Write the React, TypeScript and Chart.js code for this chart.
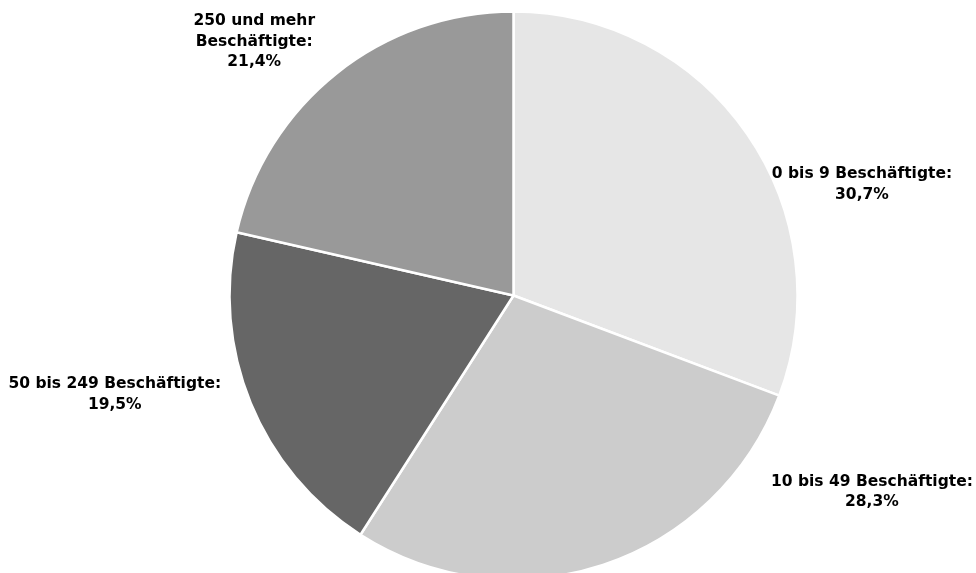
import React, { useEffect, useRef } from "react";
import { Chart, registerables } from "chart.js";

Chart.register(...registerables);

const categories = [
  "0 bis 9 Beschäftigte",
  "10 bis 49 Beschäftigte",
  "50 bis 249 Beschäftigte",
  "250 und mehr\nBeschäftigte",
];
const shares = [30.7, 28.3, 19.5, 21.4];
const sliceColors = ["#e6e6e6", "#cccccc", "#666666", "#999999"];

// label centres, expressed in units of the pie radius relative to the pie centre
const labelOffsets: [number, number][] = [
  [1.227, -0.391],
  [1.262, 0.692],
  [-1.404, 0.349],
  [-0.913, -0.894],
];

const fmt = (v: number) => v.toFixed(1).replace(".", ",") + "%";

const labelPlugin = {
  id: "outsideLabels",
  afterDatasetsDraw(chart: any) {
    const ctx = chart.ctx;
    const meta = chart.getDatasetMeta(0);
    ctx.save();
    ctx.font = "bold 15.5px 'DejaVu Sans', sans-serif";
    ctx.fillStyle = "#000000";
    ctx.textAlign = "center";
    ctx.textBaseline = "middle";
    const lineH = 20.8;
    meta.data.forEach((arc: any, i: number) => {
      const { x, y, outerRadius } = arc.getProps(["x", "y", "outerRadius"], true);
      const [ox, oy] = labelOffsets[i];
      const cx = x + ox * outerRadius;
      const cy = y + oy * outerRadius;
      const lines = (categories[i] + ":\n" + fmt(shares[i])).split("\n");
      const top = cy - ((lines.length - 1) * lineH) / 2;
      lines.forEach((ln, k) => ctx.fillText(ln, cx, top + k * lineH));
    });
    ctx.restore();
  },
};

export default function App() {
  const ref = useRef<HTMLCanvasElement | null>(null);
  useEffect(() => {
    if (!ref.current) return;
    const chart = new Chart(ref.current, {
      type: "pie",
      data: {
        labels: categories.map((c) => c.replace("\n", " ")),
        datasets: [
          {
            data: shares,
            backgroundColor: sliceColors,
            borderColor: "#ffffff",
            borderWidth: 2.5,
            radius: 284,
          },
        ],
      },
      options: {
        animation: false,
        responsive: true,
        maintainAspectRatio: false,
        layout: { padding: { left: 51, right: 0, top: 0, bottom: 0 } },
        plugins: {
          legend: { display: false },
          tooltip: { enabled: false },
        },
      },
      plugins: [labelPlugin],
    });
    return () => chart.destroy();
  }, []);
  return (
    <div
      style={{
        position: "fixed",
        left: 0,
        top: 0,
        width: 976,
        height: 591,
        background: "#ffffff",
      }}
    >
      <canvas ref={ref} />
    </div>
  );
}
